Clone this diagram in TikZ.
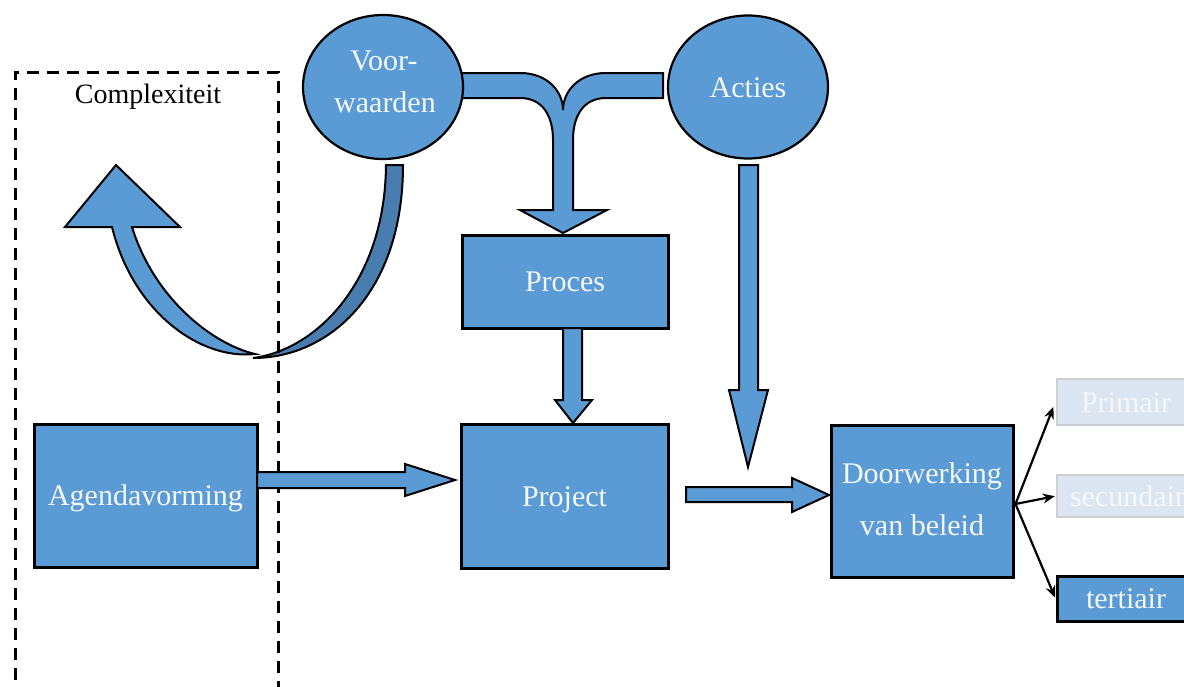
\documentclass[tikz,border=0pt]{standalone}
\usepackage{fontspec}
\setmainfont{Liberation Serif}
\usetikzlibrary{arrows.meta,calc,shapes.geometric}
\definecolor{boxblue}{HTML}{5B9BD5}
\definecolor{ribbon}{HTML}{4A7DAF}
\definecolor{paleblue}{HTML}{DCE6F2}
\definecolor{palerim}{HTML}{CBCFD4}
\definecolor{labelwhite}{HTML}{F4F7FB}
\begin{document}
\begin{tikzpicture}[x=1pt,y=-1pt,
  stepbox/.style={draw=black, line width=3pt, fill=boxblue, rectangle, inner sep=0pt,
    text=labelwhite, font=\fontsize{30}{36}\selectfont, text height=20pt, text depth=0pt},
  palebox/.style={stepbox, draw=palerim, line width=2.5pt, fill=paleblue},
  oval/.style={draw=black, line width=2.2pt, fill=boxblue, ellipse, inner sep=0pt},
  lbl/.style={text=labelwhite, font=\fontsize{30}{36}\selectfont, anchor=base, inner sep=0pt},
  blockarrow/.style={draw=black, line width=2pt, fill=boxblue, line join=miter},
  darkribbon/.style={blockarrow, fill=ribbon},
  thinarrow/.style={draw=black, line width=2.2pt, -{Stealth[length=12pt,width=10pt]}, shorten >=1pt},
  framebox/.style={draw=black, line width=3pt, dash pattern=on 12pt off 8pt}
]
\clip (0,0) rectangle (1184,686);

% curved return arrow below "Voorwaarden"
\draw[darkribbon] (386,165) -- (403,165)
  .. controls (403,292) and (330,358) .. (253,358)
  .. controls (316,350) and (385,282) .. (386,165) -- cycle;
\draw[blockarrow] (65,227) -- (116,165) -- (180,227) -- (132,227)
  .. controls (154,298) and (212,344) .. (255,354)
  .. controls (200,360) and (133,312) .. (112,227) -- cycle;

% dashed frame of "Complexiteit"
\draw[framebox] (15,700) -- (15,72) -- (278,72) -- (278,700);
\node[font=\fontsize{28}{34}\selectfont, anchor=base, inner sep=0pt] (cpx) at (148,103) {Complexiteit};

% merging arrow from both circles into "Proces"
\draw[blockarrow] (455,73) -- (520,73)
  .. controls (548,73) and (563,92) .. (563,110)
  .. controls (563,92) and (578,73) .. (606,73)
  -- (663,73) -- (663,98) -- (606,98)
  .. controls (584,98) and (573,115) .. (573,140)
  -- (573,210) -- (607,210) -- (563,233) -- (520,210) -- (553,210) -- (553,140)
  .. controls (553,115) and (542,98) .. (520,98) -- (455,98) -- cycle;

% circles
\node[oval, minimum width=160pt, minimum height=144pt] (vw) at (383,87) {};
\node[lbl] (vw1) at ($(vw.center)+(1,-17)$) {Voor-};
\node[lbl] (vw2) at ($(vw.center)+(2,25)$) {waarden};
\node[oval, minimum width=160pt, minimum height=143pt] (act) at (748,87) {};
\node[lbl] (acttxt) at ($(act.center)+(0,10)$) {Acties};

% boxes
\node[stepbox, minimum width=206pt, minimum height=93pt] (proc) at (565,281.5) {Proces};
\node[stepbox, minimum width=207pt, minimum height=144pt] (proj) at (564.5,496) {Project};
\node[stepbox, minimum width=223pt, minimum height=143pt] (agenda) at (145.5,495.5) {Agendavorming};
\node[stepbox, minimum width=182pt, minimum height=152pt] (dw) at (922,501) {};
\node[lbl] (dw1) at ($(dw.center)+(0,-18)$) {Doorwerking};
\node[lbl] (dw2) at ($(dw.center)+(0,34)$) {van beleid};

\node[palebox, minimum width=138pt, minimum height=46pt] (prim) at (1126,402) {Primair};
\node[palebox, minimum width=138pt, minimum height=42pt, text width=128pt, align=left] (sec) at (1126,496) {\hspace*{8pt}secundair};
\node[stepbox, minimum width=138pt, minimum height=45pt] (tert) at (1126,598.5) {tertiair};

% straight block arrows
\draw[blockarrow] (257,472) -- (405,472) -- (405,464) -- (455,480) -- (405,496) -- (405,488) -- (257,488) -- cycle;
\draw[blockarrow] (563,328) -- (582,328) -- (582,400) -- (592,400) -- (573,423) -- (555,400) -- (563,400) -- cycle;
\draw[blockarrow] (739,165) -- (758,165) -- (758,390) -- (768,390) -- (748,467) -- (729,390) -- (739,390) -- cycle;
\draw[blockarrow] (686,487) -- (792,487) -- (792,478) -- (829,495) -- (792,512) -- (792,502) -- (686,502) -- cycle;

% fan-out from "Doorwerking van beleid"
\coordinate (fork) at ($(dw.east)+(1,3)$);
\draw[thinarrow] (fork) -- ($(prim.west)+(-2,4)$);
\draw[thinarrow] (fork) -- (sec.west);
\draw[thinarrow] (fork) -- (tert.west);
\end{tikzpicture}
\end{document}
